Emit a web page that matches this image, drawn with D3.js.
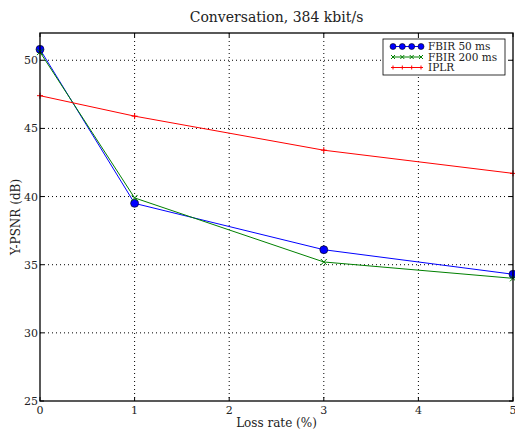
<!DOCTYPE html>
<html>
<head>
<meta charset="utf-8">
<script src="https://d3js.org/d3.v7.min.js"></script>
<style>
  body { margin: 0; background: #fff; }
  svg { font-family: "DejaVu Serif", serif; }
  .grid line { stroke: #000; stroke-dasharray: 1,3; stroke-width: 1; }
</style>
</head>
<body>
<svg id="chart" width="515" height="432"></svg>
<script>
var lossRates = [0, 1, 3, 5];
var fbir50 = [50.8, 39.5, 36.1, 34.3];
var fbir200 = [50.6, 39.9, 35.2, 34.0];
var iplr = [47.4, 45.9, 43.4, 41.7];
var xTicks = [0, 1, 2, 3, 4, 5];
var yTicks = [25, 30, 35, 40, 45, 50];

var series = [
  {name: "FBIR 50 ms", values: fbir50, color: "#0000ff", marker: "circle"},
  {name: "FBIR 200 ms", values: fbir200, color: "#008000", marker: "x"},
  {name: "IPLR", values: iplr, color: "#ff0000", marker: "plus"}
];

// plot box (top/left names clash with window globals, so use pl/pt)
var pl = 40, pr = 513, pt = 33, pb = 401;
var svg = d3.select("#chart");
var x = d3.scaleLinear().domain([0, 5]).range([pl, pr]);
var y = d3.scaleLinear().domain([25, 52]).range([pb, pt]);

// grid
var grid = svg.append("g").attr("class", "grid");
grid.selectAll(".gx").data(xTicks.slice(1, -1)).enter().append("line")
  .attr("x1", d => x(d)).attr("x2", d => x(d)).attr("y1", pt).attr("y2", pb);
grid.selectAll(".gy").data(yTicks.slice(1)).enter().append("line")
  .attr("y1", d => y(d)).attr("y2", d => y(d)).attr("x1", pl).attr("x2", pr);

// series
var line = d3.line().x((d, i) => x(lossRates[i])).y(d => y(d));
series.forEach(function(s) {
  svg.append("path").attr("d", line(s.values))
    .attr("fill", "none").attr("stroke", s.color).attr("stroke-width", 1);
});

function drawMarker(g, type, color, cx, cy, sz) {
  if (type === "circle") {
    g.append("circle").attr("cx", cx).attr("cy", cy).attr("r", sz + 1)
      .attr("fill", "#0000ff").attr("stroke", "#000").attr("stroke-width", 0.6);
  } else if (type === "x") {
    g.append("path").attr("d", "M" + (cx - sz) + "," + (cy - sz) + "L" + (cx + sz) + "," + (cy + sz) +
      "M" + (cx - sz) + "," + (cy + sz) + "L" + (cx + sz) + "," + (cy - sz))
      .attr("stroke", color).attr("stroke-width", 1);
  } else {
    g.append("path").attr("d", "M" + (cx - sz) + "," + cy + "L" + (cx + sz) + "," + cy +
      "M" + cx + "," + (cy - sz) + "L" + cx + "," + (cy + sz))
      .attr("stroke", color).attr("stroke-width", 1);
  }
}

var marks = svg.append("g");
series.forEach(function(s) {
  s.values.forEach(function(v, i) {
    drawMarker(marks, s.marker, s.color, x(lossRates[i]), y(v), 3);
  });
});

// frame
svg.append("rect").attr("x", pl).attr("y", pt)
  .attr("width", pr - pl).attr("height", pb - pt)
  .attr("fill", "none").attr("stroke", "#000").attr("stroke-width", 1.3);

// ticks (inward, matplotlib style)
var ticks = svg.append("g").attr("stroke", "#000").attr("stroke-width", 1);
xTicks.forEach(function(t) {
  ticks.append("line").attr("x1", x(t)).attr("x2", x(t)).attr("y1", pb).attr("y2", pb - 4);
  ticks.append("line").attr("x1", x(t)).attr("x2", x(t)).attr("y1", pt).attr("y2", pt + 4);
});
yTicks.forEach(function(t) {
  ticks.append("line").attr("y1", y(t)).attr("y2", y(t)).attr("x1", pl).attr("x2", pl + 4);
  ticks.append("line").attr("y1", y(t)).attr("y2", y(t)).attr("x1", pr).attr("x2", pr - 4);
});

// tick labels
svg.append("g").selectAll("text").data(xTicks).enter().append("text")
  .attr("x", d => x(d)).attr("y", pb + 13).attr("text-anchor", "middle")
  .attr("font-size", 11).attr("fill", "#222").text(d => d);
svg.append("g").selectAll("text").data(yTicks).enter().append("text")
  .attr("x", pl - 2).attr("y", d => y(d) + 4).attr("text-anchor", "end")
  .attr("font-size", 11).attr("fill", "#222").text(d => d);

// labels
svg.append("text").attr("x", (pl + pr) / 2).attr("y", 22).attr("text-anchor", "middle")
  .attr("font-size", 14).attr("fill", "#222").text("Conversation, 384 kbit/s");
svg.append("text").attr("x", (pl + pr) / 2).attr("y", 427).attr("text-anchor", "middle")
  .attr("font-size", 12).attr("fill", "#222").text("Loss rate (%)");
svg.append("text").attr("transform", "translate(20," + ((pt + pb) / 2) + ") rotate(-90)")
  .attr("text-anchor", "middle").attr("font-size", 12).attr("fill", "#222").text("Y-PSNR (dB)");

// legend
var lg = svg.append("g").attr("transform", "translate(383,39)");
lg.append("rect").attr("width", 122).attr("height", 36)
  .attr("fill", "#fff").attr("stroke", "#000").attr("stroke-width", 0.8);
series.forEach(function(s, i) {
  var ly = 7.5 + i * 10.5;
  lg.append("line").attr("x1", 10).attr("x2", 38).attr("y1", ly).attr("y2", ly)
    .attr("stroke", s.color).attr("stroke-width", 1);
  [10, 19.3, 28.7, 38].forEach(function(mx) {
    drawMarker(lg, s.marker, s.color, mx, ly, 2);
  });
  lg.append("text").attr("x", 45).attr("y", ly + 3.5).attr("font-size", 10.5)
    .attr("fill", "#222").text(s.name);
});
</script>
</body>
</html>
